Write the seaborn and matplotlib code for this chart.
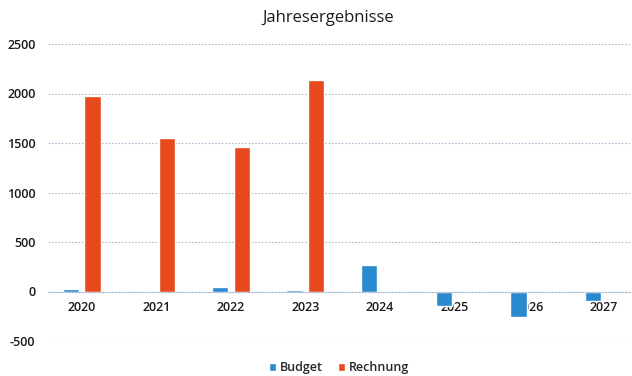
import matplotlib
matplotlib.use("Agg")
import matplotlib.pyplot as plt
import seaborn as sns
import pandas as pd

years = ["2020", "2021", "2022", "2023", "2024", "2025", "2026", "2027"]
budget = [24, 0, 45, 15, 263, -145, -260, -95]
rechnung = [1970, 1550, 1460, 2140, None, None, None, None]
series_names = ["Budget", "Rechnung"]
y_ticks = [-500, 0, 500, 1000, 1500, 2000, 2500]

rows = []
for i, y in enumerate(years):
    rows.append({"Jahr": y, "Serie": series_names[0], "Wert": budget[i]})
    if rechnung[i] is not None:
        rows.append({"Jahr": y, "Serie": series_names[1], "Wert": rechnung[i]})
df = pd.DataFrame(rows)

sns.set_style("white")
plt.rcParams["font.family"] = ["Open Sans", "DejaVu Sans"]

fig = plt.figure(figsize=(6.32, 3.76), dpi=100)
ax = fig.add_axes([48 / 632, 35 / 376, 582 / 632, 297 / 376])

palette = {"Budget": "#2A8AD0", "Rechnung": "#E5491C"}
sns.barplot(data=df, x="Jahr", y="Wert", hue="Serie", order=years,
            hue_order=series_names, palette=palette, width=0.58, gap=0.25,
            ax=ax, errorbar=None, saturation=1)

ax.set_ylim(-500, 2500)
ax.set_yticks(y_ticks)
ax.set_yticklabels([str(t) for t in y_ticks], fontsize=9, color="#1a1a1a",
                   fontweight="semibold")
ax.yaxis.grid(True, linestyle=(0, (1.5, 1.5)), color="#A9BCD0", linewidth=0.8)
ax.set_axisbelow(True)
ax.set_xlabel("")
ax.set_ylabel("")
for s in ["left", "right", "top"]:
    ax.spines[s].set_visible(False)
ax.spines["bottom"].set_position(("data", 0))
ax.spines["bottom"].set_color("#A9BCD0")
ax.spines["bottom"].set_linestyle((0, (1.5, 1.5)))
ax.spines["bottom"].set_linewidth(0.8)
ax.tick_params(axis="x", length=0, pad=7, labelsize=9, labelcolor="#1a1a1a")
for lbl in ax.get_xticklabels():
    lbl.set_fontweight("semibold")
ax.tick_params(axis="y", length=0, pad=9)
ax.set_xlim(-0.45, 7.35)

ax.set_title("Jahresergebnisse", fontsize=12, color="#1a1a1a", pad=16, x=0.482)

leg = ax.legend(loc="upper center", bbox_to_anchor=(0.5, -0.03), ncol=2, frameon=False,
                fontsize=9, handlelength=0.6, handleheight=0.6, handletextpad=0.3,
                columnspacing=1.2)
for t in leg.get_texts():
    t.set_fontweight("semibold")

fig.savefig("out.png", dpi=100)
